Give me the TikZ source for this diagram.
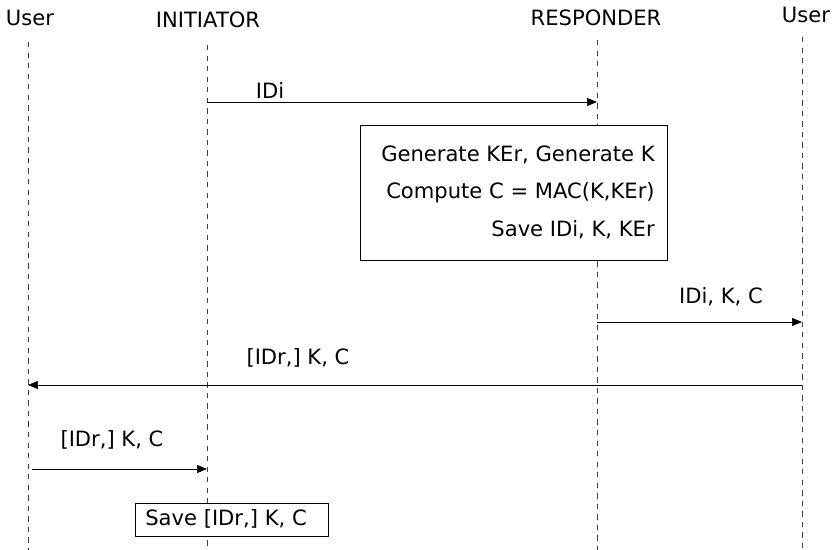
\documentclass[tikz,border=0pt]{standalone}
\usepackage{fontspec}
\setmainfont{DejaVu Sans}
\usetikzlibrary{arrows.meta, positioning}

\begin{document}
\begin{tikzpicture}[
    x=0.02cm, y=-0.02cm,
    actor/.style={font=\fontsize{12}{14}\selectfont, inner sep=0pt},
    lifeline/.style={dashed, black!75, thin},
    msg/.style={-{Triangle[length=2mm, width=1.6mm]}, thin},
    lbl/.style={font=\fontsize{12}{14}\selectfont, inner sep=0pt},
    actbox/.style={rectangle, draw, thin, font=\fontsize{12}{14}\selectfont, inner sep=0pt}
]
    \useasboundingbox (0,0) rectangle (833,550);

    % Actors
    \node[actor] (userl) at (30,18) {User};
    \node[actor] (init) at (208,20) {INITIATOR};
    \node[actor] (resp) at (596,18) {RESPONDER};
    \node[actor] (userr) at (806,15) {User};

    % Lifelines
    \coordinate (ul) at (28,42);
    \coordinate (il) at (207,45);
    \coordinate (rl) at (597,40);
    \coordinate (ur) at (802,37);
    \draw[lifeline] (ul) -- (ul |- 0,550);
    \draw[lifeline] (il) -- (il |- 0,550);
    \draw[lifeline] (rl) -- (rl |- 0,550);
    \draw[lifeline] (ur) -- (ur |- 0,550);

    % Message 1
    \coordinate (m1a) at (207,102);
    \coordinate (m1b) at (597,102);
    \draw[msg] (m1a) -- (m1b);
    \node[lbl] (l1) at (270,90) {IDi};

    % Responder computation
    \node[actbox, fill=white, anchor=north west, minimum width=307*0.02cm, minimum height=135*0.02cm] (calc) at (360,125) {};
    \node[lbl, anchor=east] (c1) at (655,155) {Generate KEr, Generate K};
    \node[lbl, anchor=east] (c2) at (655,193) {Compute C = MAC(K,KEr)};
    \node[lbl, anchor=east] (c3) at (655,230) {Save IDi, K, KEr};

    % Message 2
    \coordinate (m2a) at (597,322);
    \coordinate (m2b) at (802,322);
    \draw[msg] (m2a) -- (m2b);
    \node[lbl] (l2) at (721,297) {IDi, K, C};

    % Message 3
    \coordinate (m3a) at (802,385);
    \coordinate (m3b) at (28,385);
    \draw[msg] (m3a) -- (m3b);
    \node[lbl] (l3) at (298,358) {[IDr,] K, C};

    % Message 4
    \coordinate (m4a) at (32,469);
    \coordinate (m4b) at (207,469);
    \draw[msg] (m4a) -- (m4b);
    \node[lbl] (l4) at (112,440) {[IDr,] K, C};

    % Initiator stores
    \node[actbox, fill=white, anchor=north west, minimum width=193*0.02cm, minimum height=33*0.02cm] (save) at (135,503) {};
    \node[lbl, anchor=west] (s1) at (145,519) {Save [IDr,] K, C};
\end{tikzpicture}
\end{document}
